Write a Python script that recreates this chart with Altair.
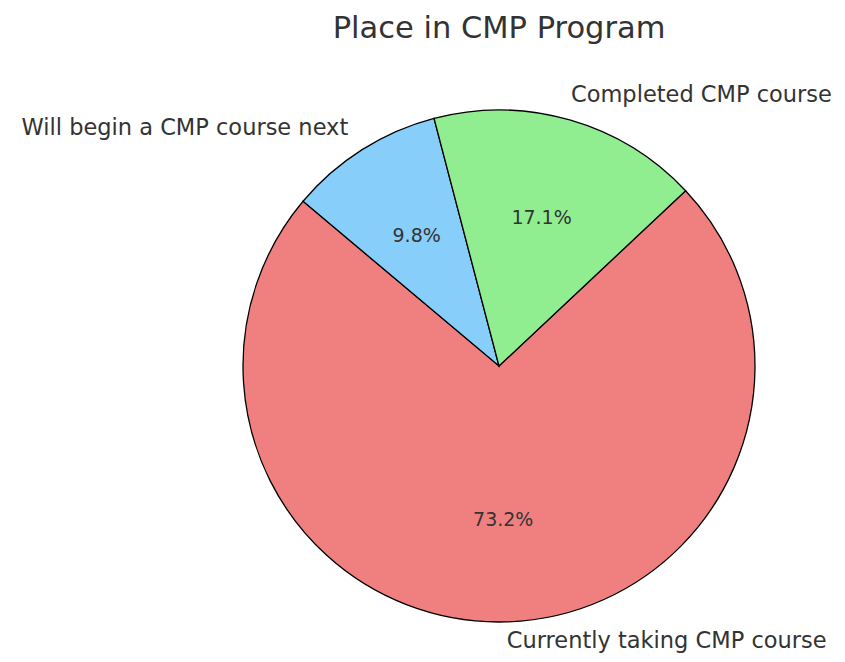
import math
import altair as alt
import pandas as pd

categories = ["Currently taking CMP course", "Will begin a CMP course next", "Completed CMP course"]
values = [73.2, 9.8, 17.1]
pct_labels = ["73.2%", "9.8%", "17.1%"]
colors = ["#F08080", "#87CEFA", "#90EE90"]
slice_order = [0, 1, 2]

df = pd.DataFrame({"category": categories, "value": values, "pct": pct_labels, "order": slice_order})

start = math.radians(46.8)
theta_scale = alt.Scale(range=[start, start + 2 * math.pi])

base = alt.Chart(df).encode(
    theta=alt.Theta("value:Q", stack=True, scale=theta_scale),
    order=alt.Order("order:Q"),
)

pie = base.mark_arc(outerRadius=256, stroke="black", strokeWidth=1.3).encode(
    color=alt.Color("category:N", scale=alt.Scale(domain=categories, range=colors), legend=None)
)

pct = base.mark_text(radius=154, fontSize=19, font="DejaVu Sans", color="#333333",
                     align="center", baseline="middle").encode(text="pct:N")


def outer_label(name, align, dx=0, dy=0):
    return base.transform_calculate(
        lbl=f"datum.category == '{name}' ? datum.category : ''"
    ).mark_text(radius=282, fontSize=22.5, font="DejaVu Sans", color="#333333",
                align=align, baseline="middle", dx=dx, dy=dy).encode(text="lbl:N")


lbl_current = outer_label(categories[0], "left", dx=0, dy=-7)
lbl_next = outer_label(categories[1], "right")
lbl_done = outer_label(categories[2], "left", dx=-6)

chart = alt.layer(pie, pct, lbl_current, lbl_next, lbl_done).properties(
    width=676,
    height=576,
    padding={"left": 153, "top": 70, "right": 0, "bottom": 0},
    autosize=alt.AutoSizeParams(type="none"),
    title=alt.Title("Place in CMP Program", fontSize=30.5, font="DejaVu Sans",
                    fontWeight="normal", color="#333333", anchor="middle", offset=32),
).configure_view(strokeWidth=0)

chart.save("out.html", embed_options={"renderer": "svg", "actions": False})
